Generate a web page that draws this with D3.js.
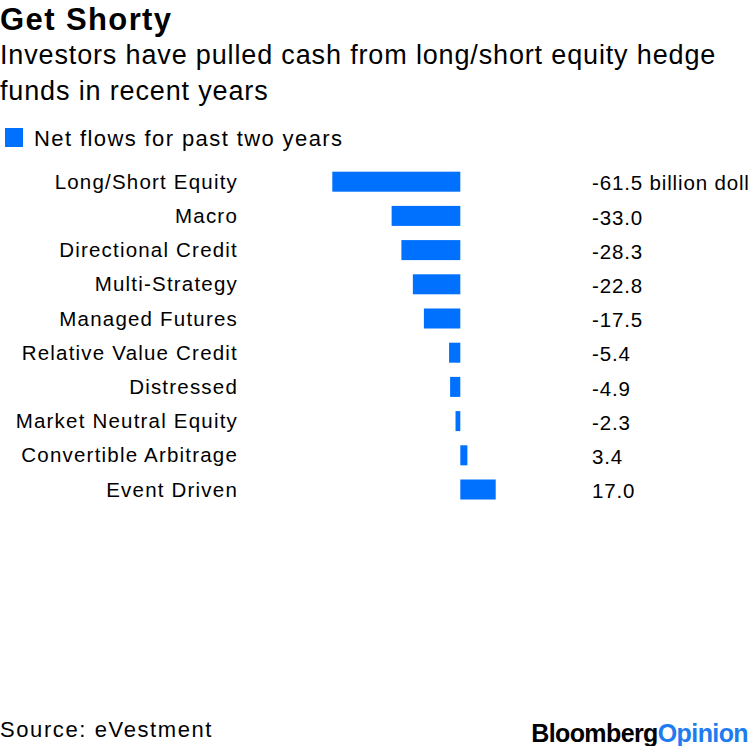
<!DOCTYPE html>
<html><head><meta charset="utf-8">
<script src="https://cdn.jsdelivr.net/npm/d3@7"></script>
<style>body{margin:0;background:#fff}svg{display:block}text{font-family:"Liberation Sans",Arial,sans-serif}</style>
</head><body>
<script>
const categories = ["Long/Short Equity","Macro","Directional Credit","Multi-Strategy","Managed Futures","Relative Value Credit","Distressed","Market Neutral Equity","Convertible Arbitrage","Event Driven"];
const values = [-61.5,-33.0,-28.3,-22.8,-17.5,-5.4,-4.9,-2.3,3.4,17.0];
const valueLabels = ["-61.5 billion dollars","-33.0","-28.3","-22.8","-17.5","-5.4","-4.9","-2.3","3.4","17.0"];
const title = "Get Shorty";
const subtitle = ["Investors have pulled cash from long/short equity hedge","funds in recent years"];
const legendLabel = "Net flows for past two years";
const source = "Source: eVestment";

const W = 750, H = 746, blue = "#0070ff";
const svg = d3.select("body").append("svg").attr("width", W).attr("height", H);

svg.append("text").attr("x", 0).attr("y", 30).attr("font-size", 31).attr("font-weight", "bold")
  .attr("letter-spacing", 1.4).attr("fill", "#000").text(title);
subtitle.forEach((s, i) => svg.append("text").attr("x", 0).attr("y", 64 + i * 36).attr("font-size", 27)
  .attr("letter-spacing", 0.85).attr("fill", "#000").text(s));

svg.append("rect").attr("x", 5).attr("y", 128).attr("width", 18).attr("height", 19).attr("fill", blue);
svg.append("text").attr("x", 34).attr("y", 146).attr("font-size", 22).attr("letter-spacing", 1.4)
  .attr("fill", "#000").text(legendLabel);

const x = d3.scaleLinear().domain([-61.5, 17]).range([332.3, 495.7]);
const y = d3.scaleBand().domain(categories).range([157.5, 513.7]).paddingInner(0.415).paddingOuter(0.415);

const rows = svg.append("g").selectAll("g").data(categories).join("g");
rows.append("rect")
  .attr("x", (d, i) => x(Math.min(0, values[i])))
  .attr("width", (d, i) => Math.abs(x(values[i]) - x(0)))
  .attr("y", d => y(d)).attr("height", y.bandwidth()).attr("fill", blue);
rows.append("text").attr("x", 238).attr("y", d => y(d) + y.bandwidth() / 2).attr("dy", "0.35em")
  .attr("text-anchor", "end").attr("font-size", 20.5).attr("letter-spacing", 1.2).attr("fill", "#000").text(d => d);
rows.append("text").attr("x", 592).attr("y", d => y(d) + y.bandwidth() / 2 + 1.5).attr("dy", "0.35em")
  .attr("font-size", 20.5).attr("letter-spacing", 0.85).attr("fill", "#000").text((d, i) => valueLabels[i]);

svg.append("text").attr("x", 0).attr("y", 737).attr("font-size", 22).attr("letter-spacing", 1.6)
  .attr("fill", "#000").text(source);
const logo = svg.append("text").attr("x", 748).attr("y", 742).attr("text-anchor", "end").attr("font-size", 25)
  .attr("font-weight", "bold").attr("letter-spacing", -0.6);
logo.append("tspan").attr("fill", "#000").text("Bloomberg");
logo.append("tspan").attr("fill", "#1f7cf0").text("Opinion");
</script>
</body></html>
